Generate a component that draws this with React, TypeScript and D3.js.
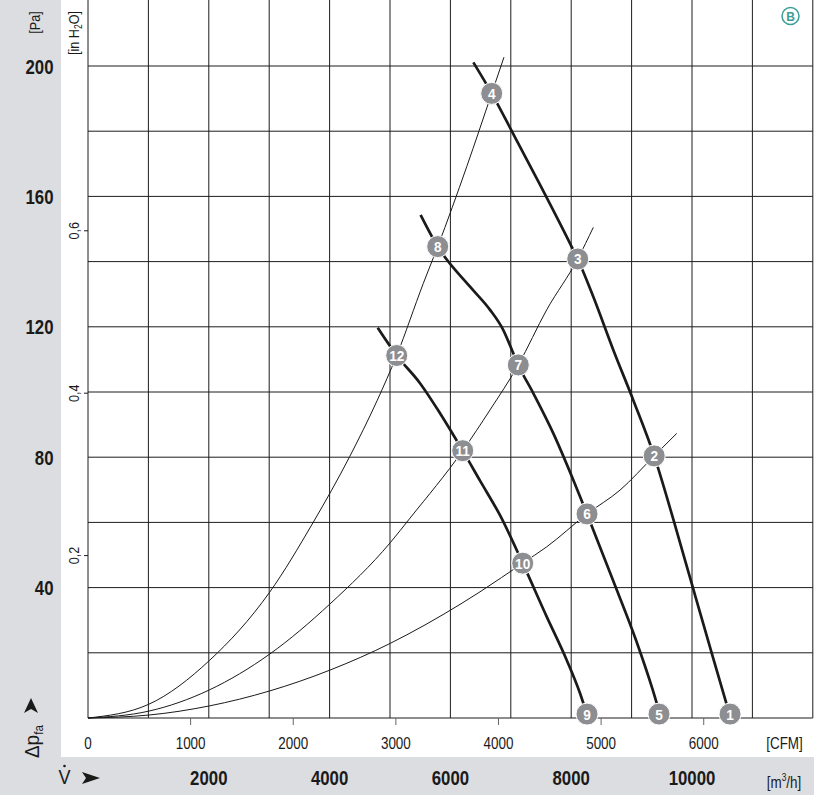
import React from "react";
import * as d3 from "d3";

// ---- data (flow in m³/h, pressure in Pa) ----
const curveA: [number, number][] = [
  [6380, 201.1], [6684, 191.6], [7040, 179.2], [7483, 163.6], [7980, 145.6], [8108, 140.8],
  [8366, 129.2], [8697, 112.9], [9028, 97.5], [9374, 80.4], [9690, 61.0], [10022, 39.5],
  [10353, 18.2], [10640, 0],
];
const curveB: [number, number][] = [
  [5508, 154.3], [5790, 144.6], [6325, 132.3], [6656, 125.2], [6876, 119.0], [7041, 111.9],
  [7124, 108.3], [7373, 99.6], [7704, 87.3], [8035, 73.0], [8262, 62.6], [8697, 42.0],
  [9084, 23.3], [9350, 8.6], [9487, 0],
];
const curveC: [number, number][] = [
  [4796, 119.7], [5111, 111.2], [5497, 102.7], [5828, 93.5], [6204, 82.0], [6490, 72.8],
  [6821, 62.2], [7197, 47.5], [7594, 31.1], [7925, 17.8], [8146, 7.6], [8280, 0],
];
const system1: [number, number][] = [
  [0, 0], [1005, 4.2], [2008, 17.6], [3008, 38.6], [3725, 59.9], [4333, 80.2], [4790, 97.5],
  [5111, 111.2], [5551, 133.3], [5790, 144.6], [6270, 169.1], [6684, 191.6], [6887, 202.7],
];
const system2: [number, number][] = [
  [0, 0], [1005, 2.1], [2008, 8.6], [3008, 19.6], [4007, 35.0], [5005, 53.8], [5331, 61.3],
  [6204, 82.0], [6656, 94.5], [7124, 108.3], [7594, 125.2], [8108, 140.8], [8366, 150.5],
];
const system3: [number, number][] = [
  [0, 0], [1005, 0.9], [2008, 3.7], [3008, 8.3], [4007, 14.7], [5005, 22.9], [5298, 25.7],
  [6490, 38.7], [7197, 47.5], [7594, 52.5], [8262, 62.6], [8808, 69.9], [9374, 80.4], [9747, 87.3],
];
const markerIds = [1, 2, 3, 4, 5, 6, 7, 8, 9, 10, 11, 12];
const markerFlow = [10630, 9374, 8108, 6684, 9454, 8262, 7124, 5790, 8262, 7197, 6204, 5111];
const markerPa = [1.2, 80.4, 140.8, 191.6, 1.2, 62.6, 108.3, 144.6, 1.2, 47.5, 82.0, 111.2];

const paLabels = [40, 80, 120, 160, 200];
const m3hLabels = [2000, 4000, 6000, 8000, 10000];
const cfmTicks = [0, 1000, 2000, 3000, 4000, 5000, 6000];
const inH2OTicks = [0.2, 0.4, 0.6];
const gridFlow = d3.range(0, 12001, 1000);
const gridPa = d3.range(0, 201, 20);

const CFM_TO_M3H = 1.69901;
const INH2O_TO_PA = 249.089;

const FONT = "'Liberation Sans', Arial, sans-serif";
const INK = "#1a1a1a";

function T(props: {
  x: number; y: number; size: number; bold?: boolean; anchor?: string; sx?: number; rot?: number;
  fill?: string; children: React.ReactNode;
}) {
  const { x, y, size, bold, anchor = "start", sx = 0.84, rot = 0, fill = INK, children } = props;
  return (
    <text transform={`translate(${x},${y}) rotate(${rot}) scale(${sx},1)`} textAnchor={anchor}
      fontSize={size} fontWeight={bold ? "bold" : "normal"} fill={fill}>{children}</text>
  );
}

export default function App() {
  const W = 814, H = 795;
  const x = d3.scaleLinear().domain([0, 12000]).range([88, 812.8]);
  const y = d3.scaleLinear().domain([0, 220]).range([718, 0.8]);
  const line = d3.line<[number, number]>().x(d => x(d[0])).y(d => y(d[1])).curve(d3.curveMonotoneX);
  const grid = "#1c1c1c";

  return (
    <svg width={W} height={H} style={{ position: "absolute", left: 0, top: 0 }} fontFamily={FONT}>
      <rect x={0} y={0} width={W} height={H} fill="#ffffff" />
      <rect x={0} y={0} width={61} height={H} fill="#dcdde0" />
      <rect x={0} y={757} width={W} height={H - 757} fill="#dcdde0" />

      {/* grid */}
      {gridFlow.map(v => (
        <line key={"gx" + v} x1={x(v)} x2={x(v)} y1={0} y2={y(0)} stroke={grid} strokeWidth={1} />
      ))}
      {gridPa.map(p => (
        <line key={"gy" + p} x1={x(0)} x2={x(12000)} y1={y(p)} y2={y(p)} stroke={grid} strokeWidth={1} />
      ))}

      {/* in H2O ticks */}
      {inH2OTicks.map(t => (
        <g key={"ih" + t}>
          <line x1={x(0) - 4} x2={x(0)} y1={y(t * INH2O_TO_PA)} y2={y(t * INH2O_TO_PA)} stroke={grid} />
          <T x={78.5} y={y(t * INH2O_TO_PA)} size={15} anchor="middle" rot={-90}>{String(t).replace(".", ",")}</T>
        </g>
      ))}
      <T x={78.5} y={33} size={15} anchor="middle" rot={-90}>
        [in H<tspan fontSize={10} dy={3}>2</tspan><tspan dy={-3}>O]</tspan>
      </T>

      {/* CFM ticks */}
      {cfmTicks.map(c => (
        <g key={"cfm" + c}>
          {c > 0 && <line x1={x(c * CFM_TO_M3H)} x2={x(c * CFM_TO_M3H)} y1={718} y2={725} stroke="#666" />}
          <T x={x(c * CFM_TO_M3H)} y={748.5} size={16} anchor="middle">{c}</T>
        </g>
      ))}
      <T x={784.5} y={748.5} size={16} anchor="middle">[CFM]</T>

      {/* system curves */}
      {[system1, system2, system3].map((s, i) => (
        <path key={"s" + i} d={line(s) || ""} fill="none" stroke={INK} strokeWidth={1} />
      ))}
      {/* fan curves */}
      {[curveA, curveB, curveC].map((c, i) => (
        <path key={"c" + i} d={line(c) || ""} fill="none" stroke={INK} strokeWidth={2.7} />
      ))}

      {/* markers */}
      {markerIds.map((id, i) => (
        <g key={"m" + id} transform={`translate(${x(markerFlow[i])},${y(markerPa[i])})`}>
          <circle r={11} fill="#8d8e91" stroke="#ffffff" strokeWidth={1} />
          <T x={0} y={5.5} size={15.5} bold anchor="middle" fill="#ffffff" sx={0.88}>{id}</T>
        </g>
      ))}

      {/* Pa labels */}
      {paLabels.map(p => (
        <T key={"pa" + p} x={53.5} y={y(p) + 7.5} size={20.5} bold anchor="end" sx={0.82}>{p}</T>
      ))}
      <T x={40} y={22.5} size={15} anchor="middle" rot={-90}>[Pa]</T>

      {/* m3/h labels */}
      {m3hLabels.map(v => (
        <T key={"mh" + v} x={x(v)} y={785} size={20.5} bold anchor="middle" sx={0.82}>{v}</T>
      ))}
      <T x={784} y={788} size={16} anchor="middle">
        [m<tspan fontSize={10} dy={-7}>3</tspan><tspan dy={7}>/h]</tspan>
      </T>

      {/* axis symbols */}
      <path d="M 31 698 L 38 713 L 31 709 L 24 713 Z" fill={INK} />
      <T x={39} y={758} size={21} rot={-90} sx={0.9}>
        Δp<tspan fontSize={13} dy={4}>fa</tspan>
      </T>
      <T x={64.5} y={784} size={20} anchor="middle" sx={0.9}>V</T>
      <circle cx={64.5} cy={766} r={1.3} fill={INK} />
      <path d="M 82 772 L 100 778 L 82 784 L 86 778 Z" fill={INK} />

      {/* badge */}
      <circle cx={790.5} cy={16} r={8.5} fill="#ffffff" stroke="#3a9d96" strokeWidth={1.5} />
      <T x={790.5} y={20.5} size={12} bold anchor="middle" fill="#3a9d96" sx={1}>B</T>
    </svg>
  );
}
